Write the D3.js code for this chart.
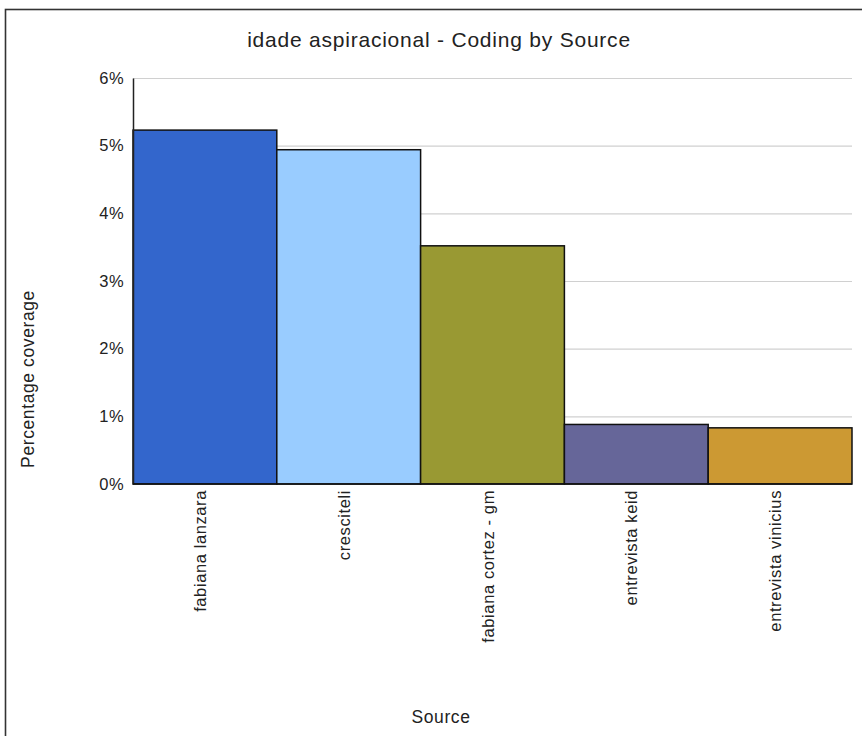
<!DOCTYPE html>
<html>
<head>
<meta charset="utf-8">
<script src="https://cdn.jsdelivr.net/npm/d3@7/dist/d3.min.js"></script>
<style>
  html, body { margin: 0; padding: 0; background: #fff; }
  svg { display: block; font-family: "Liberation Sans", Arial, sans-serif; }
</style>
</head>
<body>
<svg id="chart" width="862" height="736"></svg>
<script>
// Coverage of the "idade aspiracional" node per source
const sources = ["fabiana lanzara", "cresciteli", "fabiana cortez - gm", "entrevista keid", "entrevista vinicius"];
const coverage = [5.23, 4.94, 3.52, 0.88, 0.83];
const barColors = ["#3366CC", "#99CCFF", "#999933", "#666699", "#CC9933"];
const yTicks = [0, 1, 2, 3, 4, 5, 6];
const tickLabels = ["0%", "1%", "2%", "3%", "4%", "5%", "6%"];

const svg = d3.select("#chart");
const W = 862, H = 736;
const m = { left: 133, right: 852, top: 78, bottom: 484 };
const FONT = "'Liberation Sans', Arial, sans-serif";

// outer frame
svg.append("rect")
  .attr("x", 5.5).attr("y", 9.5)
  .attr("width", W + 10).attr("height", H + 10)
  .attr("fill", "#fff").attr("stroke", "#333").attr("stroke-width", 1.6);

const x = d3.scaleBand().domain(sources).range([m.left, m.right]).padding(0);
const y = d3.scaleLinear().domain([0, 6]).range([m.bottom, m.top]);

// gridlines
svg.append("g")
  .selectAll("line")
  .data(yTicks.filter(d => d > 0))
  .join("line")
  .attr("x1", m.left).attr("x2", m.right)
  .attr("y1", d => y(d) + 0.5).attr("y2", d => y(d) + 0.5)
  .attr("stroke", "#d0d0d0").attr("stroke-width", 1.2);

// bars
svg.append("g")
  .selectAll("rect")
  .data(sources)
  .join("rect")
  .attr("x", d => x(d))
  .attr("y", (d, i) => y(coverage[i]))
  .attr("width", x.bandwidth())
  .attr("height", (d, i) => y(0) - y(coverage[i]))
  .attr("fill", (d, i) => barColors[i])
  .attr("stroke", "#111").attr("stroke-width", 1.5);

// y axis
const yAxis = d3.axisLeft(y)
  .tickValues(yTicks)
  .tickFormat((d, i) => tickLabels[i])
  .tickSize(0)
  .tickPadding(9);
const ya = svg.append("g").attr("transform", `translate(${m.left},0)`).call(yAxis);
ya.select(".domain").attr("stroke", "#222").attr("stroke-width", 1.5);
ya.selectAll("text").attr("font-size", 16.5).attr("fill", "#222")
  .attr("letter-spacing", 0.4)
  .attr("font-family", FONT);

// baseline
svg.append("line")
  .attr("x1", m.left).attr("x2", m.right)
  .attr("y1", y(0)).attr("y2", y(0))
  .attr("stroke", "#111").attr("stroke-width", 1.5);

// x axis labels, rotated
const xAxis = d3.axisBottom(x).tickSize(0).tickPadding(0);
const xa = svg.append("g").attr("transform", `translate(0,${m.bottom})`).call(xAxis);
xa.select(".domain").remove();
xa.selectAll("text")
  .attr("font-size", 16.5).attr("fill", "#222")
  .attr("letter-spacing", 0.6)
  .attr("font-family", FONT)
  .attr("text-anchor", "end")
  .attr("dy", null)
  .attr("transform", "translate(1,6) rotate(-90)");

// title
svg.append("text")
  .attr("x", 439).attr("y", 47)
  .attr("text-anchor", "middle")
  .attr("font-size", 21).attr("fill", "#222")
  .attr("letter-spacing", 0.78)
  .text("idade aspiracional - Coding by Source");

// axis titles
svg.append("text")
  .attr("transform", "translate(34,379) rotate(-90)")
  .attr("text-anchor", "middle")
  .attr("font-size", 17.5).attr("fill", "#222")
  .attr("letter-spacing", 0.6)
  .text("Percentage coverage");

svg.append("text")
  .attr("x", 441).attr("y", 723)
  .attr("text-anchor", "middle")
  .attr("font-size", 17.5).attr("fill", "#222")
  .attr("letter-spacing", 0.6)
  .text("Source");
</script>
</body>
</html>
